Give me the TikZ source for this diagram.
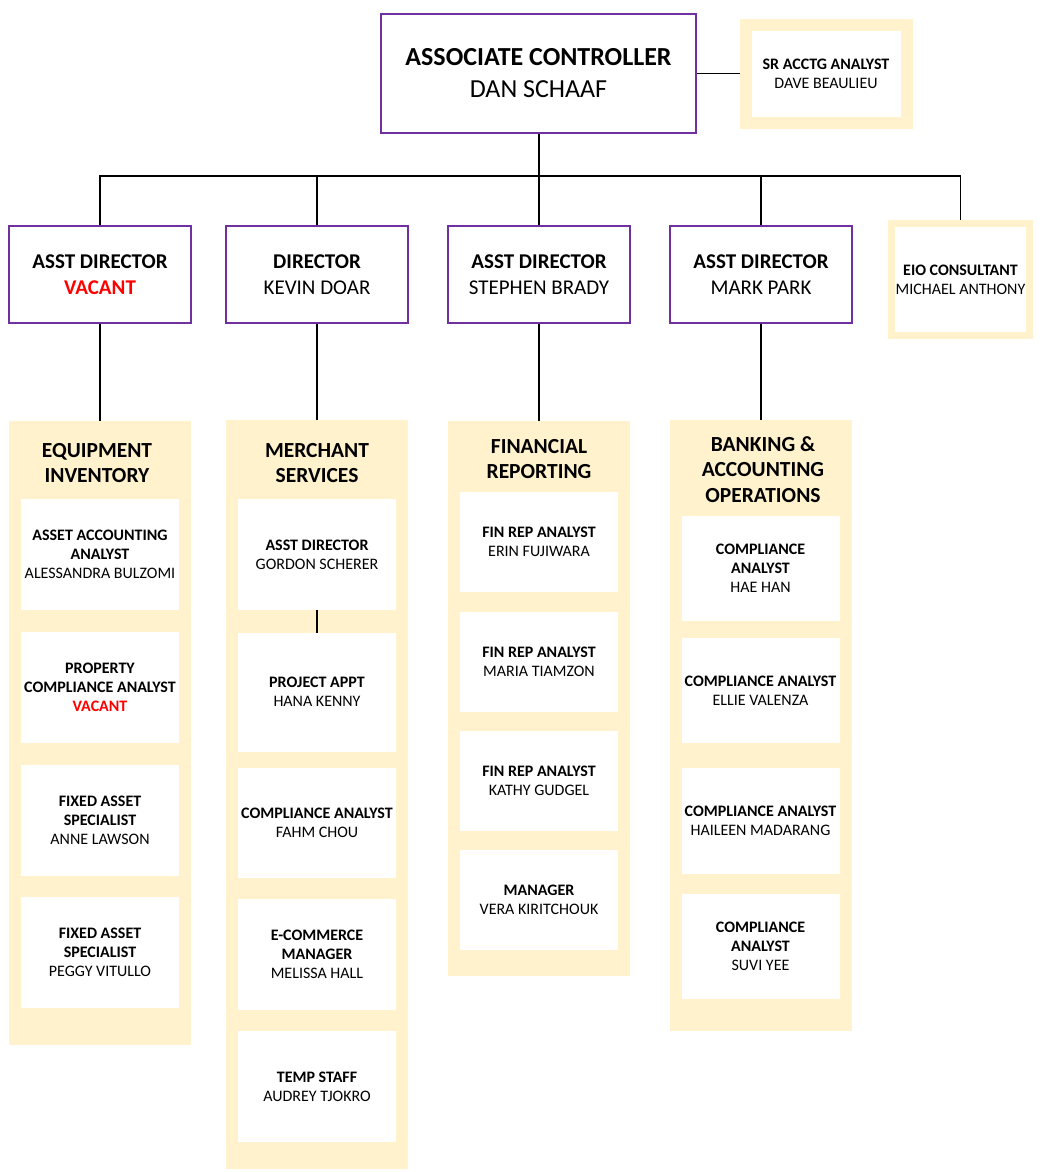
\documentclass[tikz,border=0pt]{standalone}
\usepackage{fontspec}
\setmainfont{Carlito}
\definecolor{orgpurple}{HTML}{7030A0}
\definecolor{orgyellow}{HTML}{FFF2CC}
\definecolor{orgred}{HTML}{FF0000}
\begin{document}
\begin{tikzpicture}[x=1pt, y=-1pt,
	leader/.style={draw=orgpurple, line width=1.8pt, fill=white, inner sep=0pt, align=center, minimum width=182pt, minimum height=97pt, font=\fontsize{21}{25.5}\selectfont},
	helper/.style={draw=orgyellow, fill=white, inner sep=0pt, align=center, font=\fontsize{16}{19}\selectfont},
	unit/.style={fill=orgyellow, inner sep=0pt, minimum width=182pt},
	unittitle/.style={align=center, font=\fontsize{21.5}{25.5}\selectfont\bfseries},
	card/.style={fill=white, inner sep=0pt, align=center, minimum width=158pt, minimum height=111pt, font=\fontsize{16}{19}\selectfont},
	link/.style={line width=1.8pt}]
		\useasboundingbox (0,0) rectangle (1046,1172);

		% Associate Controller
		\node[leader, minimum width=315pt, minimum height=119pt, font=\fontsize{26}{32}\selectfont] (ctrl) at (538.5,73.5) {\textbf{ASSOCIATE CONTROLLER}\\DAN SCHAAF};
		\node[helper, line width=12pt, minimum width=161pt, minimum height=98pt] (sracct) at (826,74) {\textbf{SR ACCTG ANALYST}\\DAVE BEAULIEU};
		\draw[link] (ctrl.east) -- (ctrl.east -| sracct.west);

		% Directors
		\node[leader] (dirvac) at (100,274.5) {\textbf{ASST DIRECTOR}\\\textcolor{orgred}{\textbf{VACANT}}};
		\node[leader] (dirdoar) at (317,274.5) {\textbf{DIRECTOR}\\KEVIN DOAR};
		\node[leader] (dirbrady) at (539,274.5) {\textbf{ASST DIRECTOR}\\STEPHEN BRADY};
		\node[leader] (dirpark) at (761,274.5) {\textbf{ASST DIRECTOR}\\MARK PARK};
		\node[helper, line width=7pt, minimum width=138pt, minimum height=112pt] (eio) at (960.5,279.5) {\textbf{EIO CONSULTANT}\\MICHAEL ANTHONY};

		\coordinate (bus) at (539,176);
		\draw[link] (ctrl.south -| bus) -- (bus);
		\foreach \n in {dirvac,dirdoar,dirbrady,dirpark,eio}
			\draw[link] (bus) -| (\n.north);

		% Equipment Inventory
		\node[unit, minimum height=624pt] (eqinv) at (100,733) {};
		\node[unittitle] (eqinvtitle) at (97,463) {EQUIPMENT\\INVENTORY};
		\node[card] (eqcard1) at (100,554.7) {\textbf{ASSET ACCOUNTING}\\\textbf{ANALYST}\\ALESSANDRA BULZOMI};
		\node[card] (eqcard2) at (100,687.2) {\textbf{PROPERTY}\\\textbf{COMPLIANCE ANALYST}\\\textcolor{orgred}{\textbf{VACANT}}};
		\node[card] (eqcard3) at (100,820.5) {\textbf{FIXED ASSET}\\\textbf{SPECIALIST}\\ANNE LAWSON};
		\node[card] (eqcard4) at (100,952.2) {\textbf{FIXED ASSET}\\\textbf{SPECIALIST}\\PEGGY VITULLO};

		% Merchant Services
		\node[unit, minimum height=749pt] (mersvc) at (317,794.7) {};
		\node[unittitle] (mersvctitle) at (317,463) {MERCHANT\\SERVICES};
		\node[card] (mscard1) at (317,554.7) {\textbf{ASST DIRECTOR}\\GORDON SCHERER};
		\node[card, minimum height=119pt] (mscard2) at (317,692.2) {\textbf{PROJECT APPT}\\HANA KENNY};
		\node[card, minimum height=110pt] (mscard3) at (317,822.5) {\textbf{COMPLIANCE ANALYST}\\FAHM CHOU};
		\node[card] (mscard4) at (317,954.7) {\textbf{E-COMMERCE}\\\textbf{MANAGER}\\MELISSA HALL};
		\node[card] (mscard5) at (317,1086.3) {\textbf{TEMP STAFF}\\AUDREY TJOKRO};
		\draw[link] (mscard1.south) -- (mscard2.north);

		% Financial Reporting
		\node[unit, minimum height=555pt] (finrep) at (539,698.4) {};
		\node[unittitle] (finreptitle) at (539,459) {FINANCIAL\\REPORTING};
		\node[card, minimum height=100pt] (frcard1) at (539,541.7) {\textbf{FIN REP ANALYST}\\ERIN FUJIWARA};
		\node[card, minimum height=100pt] (frcard2) at (539,661.7) {\textbf{FIN REP ANALYST}\\MARIA TIAMZON};
		\node[card, minimum height=100pt] (frcard3) at (539,781) {\textbf{FIN REP ANALYST}\\KATHY GUDGEL};
		\node[card, minimum height=100pt] (frcard4) at (539,900) {\textbf{MANAGER}\\VERA KIRITCHOUK};

		% Banking & Accounting Operations
		\node[unit, minimum height=611pt] (bankops) at (760.5,725.4) {};
		\node[unittitle] (bankopstitle) at (763,469.5) {BANKING \&\\ACCOUNTING\\OPERATIONS};
		\node[card, minimum height=105pt] (bocard1) at (760.5,568) {\textbf{COMPLIANCE}\\\textbf{ANALYST}\\HAE HAN};
		\node[card, minimum height=105pt] (bocard2) at (760.5,690.7) {\textbf{COMPLIANCE ANALYST}\\ELLIE VALENZA};
		\node[card, minimum height=106pt] (bocard3) at (760.5,820.7) {\textbf{COMPLIANCE ANALYST}\\HAILEEN MADARANG};
		\node[card, minimum height=105pt] (bocard4) at (760.5,946.7) {\textbf{COMPLIANCE}\\\textbf{ANALYST}\\SUVI YEE};

		% Connections
		\draw[link] (dirvac.south) -- (dirvac.south |- eqinv.north);
		\draw[link] (dirdoar.south) -- (dirdoar.south |- mersvc.north);
		\draw[link] (dirbrady.south) -- (dirbrady.south |- finrep.north);
		\draw[link] (dirpark.south) -- (dirpark.south |- bankops.north);
	\end{tikzpicture}
\end{document}
